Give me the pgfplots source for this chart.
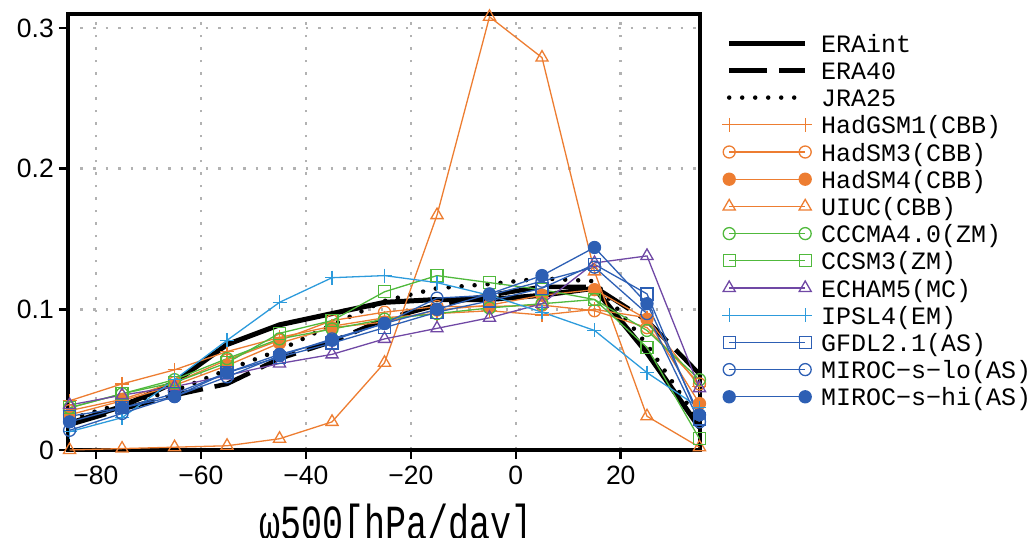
\documentclass[border=0pt]{standalone}
\usepackage{fontspec}
\setmainfont{Liberation Mono}
\newfontfamily\tickfont{Liberation Sans}
\usepackage{pgfplots}
\pgfplotsset{compat=1.18}
\usepackage{pgfplotstable}

\definecolor{cOr}{RGB}{237,125,49}
\definecolor{cGr}{RGB}{80,185,60}
\definecolor{cPu}{RGB}{112,72,165}
\definecolor{cLb}{RGB}{45,155,220}
\definecolor{cBl}{RGB}{45,95,180}

\pgfplotstableread{
x   era   erafour jra   hadg  hadsa hadsb uiuc  cccma ccsm   echam  ipsl   gfdl  mlo   mhi
-85 0.019 0.018 0.022 0.035 0.028 0.025 0.000 0.030 0.030  0.032  0.013  0.024 0.014 0.020
-75 0.031 0.029 0.033 0.047 0.036 0.035 0.001 0.040 0.040  0.039  0.023  0.030 0.026 0.030
-65 0.048 0.039 0.042 0.057 0.048 0.046 0.002 0.050 0.048  0.045  0.050  0.040 0.038 0.038
-55 0.075 0.047 0.057 0.070 0.064 0.060 0.003 0.065 0.062  0.053  0.078  0.055 0.052 0.055
-45 0.089 0.065 0.071 0.080 0.078 0.076 0.008 0.079 0.083  0.0615 0.105  0.066 0.067 0.068
-35 0.097 0.077 0.089 0.088 0.092 0.087 0.020 0.086 0.092  0.068  0.1225 0.076 0.079 0.078
-25 0.105 0.093 0.106 0.094 0.098 0.091 0.062 0.093 0.1125 0.079  0.124  0.087 0.090 0.090
-15 0.107 0.103 0.115 0.097 0.102 0.0995 0.167 0.097 0.124 0.0865 0.119  0.098 0.108 0.100
-5  0.107 0.110 0.118 0.099 0.102 0.103 0.308 0.101 0.119  0.094  0.110  0.106 0.110 0.111
5   0.110 0.116 0.122 0.096 0.103 0.110 0.279 0.104 0.114  0.104  0.098  0.115 0.120 0.124
15  0.115 0.116 0.120 0.100 0.099 0.114 0.127 0.107 0.107  0.133  0.085  0.132 0.130 0.144
25  0.069 0.092 0.075 0.094 0.087 0.093 0.024 0.085 0.073  0.138  0.055  0.111 0.097 0.104
35  0.016 0.054 0.020 0.045 0.047 0.033 0.002 0.050 0.008  0.044  0.030  0.022 0.020 0.025
}\data

\begin{document}
\begin{tikzpicture}
\useasboundingbox (-68pt,-88pt) rectangle (966pt,450pt);
\begin{axis}[
  at={(0pt,0pt)}, anchor=south west,
  scale only axis, width=632pt, height=436pt,
  xmin=-85.3, xmax=35.1, ymin=0, ymax=0.31,
  xtick={-80,-60,-40,-20,0,20},
  xticklabels={−80,−60,−40,−20,0,20},
  ytick={0,0.1,0.2,0.3},
  yticklabels={0,0.1,0.2,0.3},
  xtick pos=bottom, ytick pos=left,
  tick align=outside, major tick length=9pt,
  tick style={line width=2.5pt, black},
  axis line style={line width=4pt},
  grid=major,
  major grid style={gray!60, line width=2.5pt, dash pattern=on 2.5pt off 10pt},
  ticklabel style={font=\tickfont\fontsize{26.5}{26.5}\selectfont, inner sep=0pt},
  xticklabel style={yshift=-7pt},
  yticklabel style={xshift=-5pt},
  xlabel={\scalebox{1}[1.4]{\fontsize{35}{35}\selectfont ω500[hPa/day]}},
  xlabel style={at={(axis description cs:0.519,0)}, anchor=base, yshift=-89pt},
  clip=false,
  legend image code/.code={\draw[mark repeat=2, mark phase=1, #1] plot coordinates {(0pt,0pt) (38pt,0pt) (76pt,0pt)};},
  legend style={at={(1,1)}, anchor=north west, xshift=22pt, yshift=-20pt,
    draw=none, fill=none, inner sep=0pt, row sep=9.2pt, column sep=9pt,
    font=\fontsize{25}{25}\selectfont,
    nodes={inner sep=0pt, text height=18pt, text depth=0pt}},
  legend cell align=left,
  every axis plot/.append style={line width=1.3pt, mark size=6pt, mark options={solid, line width=1.3pt}},
]
\addplot[black, line width=5pt, no markers] table[x=x,y=era] {\data};
\addlegendentry{ERAint}
\addplot[black, line width=4.5pt, no markers, dash pattern=on 38pt off 12pt] table[x=x,y=erafour] {\data};
\addlegendentry{ERA40}
\addplot[black, line width=4.5pt, no markers, line cap=round, dash pattern=on 0pt off 13pt] table[x=x,y=jra] {\data};
\addlegendentry{JRA25}
\addplot[cOr, mark=+, mark size=7pt] table[x=x,y=hadg] {\data};
\addlegendentry{HadGSM1(CBB)}
\addplot[cOr, mark=o, mark options={fill=white}] table[x=x,y=hadsa] {\data};
\addlegendentry{HadSM3(CBB)}
\addplot[cOr, mark=*, mark options={fill=cOr}] table[x=x,y=hadsb] {\data};
\addlegendentry{HadSM4(CBB)}
\addplot[cOr, mark=triangle, mark size=7pt, mark options={fill=white}] table[x=x,y=uiuc] {\data};
\addlegendentry{UIUC(CBB)}
\addplot[cGr, mark=o, mark options={fill=white}] table[x=x,y=cccma] {\data};
\addlegendentry{CCCMA4.0(ZM)}
\addplot[cGr, mark=square, mark options={fill=white}] table[x=x,y=ccsm] {\data};
\addlegendentry{CCSM3(ZM)}
\addplot[cPu, mark=triangle, mark size=7pt, mark options={fill=white}] table[x=x,y=echam] {\data};
\addlegendentry{ECHAM5(MC)}
\addplot[cLb, mark=+, mark size=7pt] table[x=x,y=ipsl] {\data};
\addlegendentry{IPSL4(EM)}
\addplot[cBl, mark=square, mark options={fill=white}] table[x=x,y=gfdl] {\data};
\addlegendentry{GFDL2.1(AS)}
\addplot[cBl, mark=o, mark options={fill=white}] table[x=x,y=mlo] {\data};
\addlegendentry{MIROC−s−lo(AS)}
\addplot[cBl, mark=*, mark options={fill=cBl}] table[x=x,y=mhi] {\data};
\addlegendentry{MIROC−s−hi(AS)}
\end{axis}
\end{tikzpicture}
\end{document}
